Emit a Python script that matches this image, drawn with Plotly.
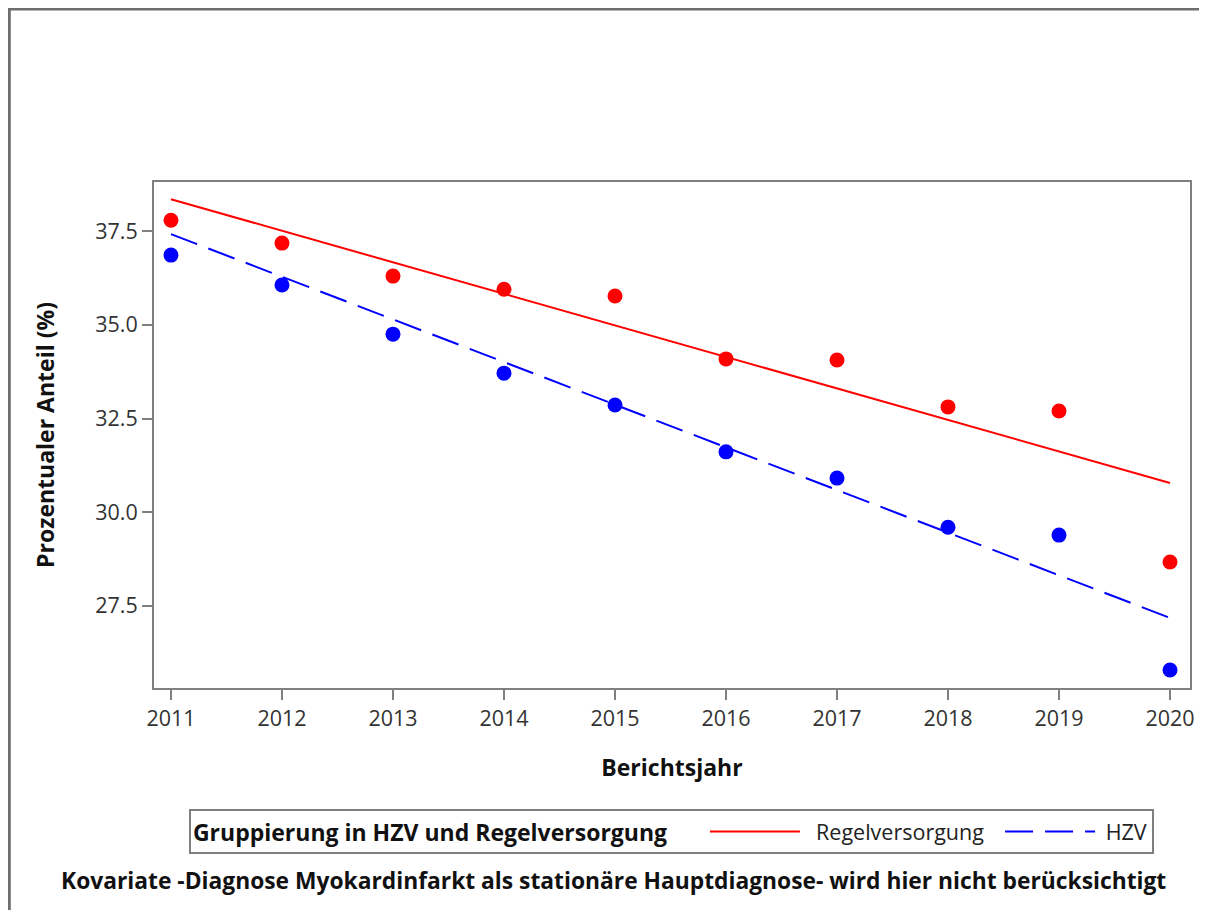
import plotly.graph_objects as go

years = [2011, 2012, 2013, 2014, 2015, 2016, 2017, 2018, 2019, 2020]
regel = [37.79, 37.18, 36.30, 35.95, 35.77, 34.09, 34.06, 32.81, 32.70, 28.67]
hzv = [36.86, 36.06, 34.75, 33.71, 32.86, 31.61, 30.91, 29.60, 29.39, 25.79]
trend_years = [2011, 2020]
trend_regel = [38.35, 30.78]
trend_hzv = [37.42, 27.18]
y_ticks = [27.5, 30.0, 32.5, 35.0, 37.5]

RED = "#ff0000"
BLUE = "#0000ff"
GRAY = "#808080"
FONT = "Open Sans"
BOLD_SIZE = 23
REG_SIZE = 21.5
NB = "\u00a0"

# plot area geometry (figure px)
L, T, PW, PH = 146, 174, 1038, 506
W, H = 1199, 902

fig = go.Figure()
fig.add_trace(go.Scatter(x=years, y=regel, mode="markers",
                         marker=dict(color=RED, size=15), showlegend=False))
fig.add_trace(go.Scatter(x=years, y=hzv, mode="markers",
                         marker=dict(color=BLUE, size=15), showlegend=False))
fig.add_trace(go.Scatter(x=trend_years, y=trend_regel, mode="lines",
                         line=dict(color=RED, width=2),
                         name=NB * 2 + "Regelversorgung" + NB * 2))
fig.add_trace(go.Scatter(x=trend_years, y=trend_hzv, mode="lines",
                         line=dict(color=BLUE, width=2, dash="28px,12px"),
                         name=NB + "HZV"))

fig.update_layout(
    width=W, height=H,
    margin=dict(l=L, r=W - L - PW, t=T, b=H - T - PH),
    paper_bgcolor="white", plot_bgcolor="white",
    font=dict(family=FONT, color="#222222", size=REG_SIZE),
    showlegend=True,
    legend=dict(
        orientation="h", x=(181 - L) / PW, y=(680 - 801) / PH, xanchor="left", yanchor="top",
        bordercolor=GRAY, borderwidth=2, itemwidth=90,
        title=dict(text="<b>Gruppierung in HZV und Regelversorgung</b>" + NB * 5,
                   font=dict(size=BOLD_SIZE, color="#111111")),
        font=dict(size=REG_SIZE, color="#222222"),
    ),
    xaxis=dict(
        range=[2010.847, 2020.18], tickvals=years, ticktext=[str(y) for y in years],
        showgrid=False, zeroline=False, showline=True, linecolor=GRAY, linewidth=2,
        mirror=True, ticks="outside", ticklen=10, tickwidth=2, tickcolor=GRAY,
        title=dict(text="<b>Berichtsjahr</b>", font=dict(size=BOLD_SIZE, color="#111111"), standoff=29),
        tickfont=dict(size=REG_SIZE, color="#333333"),
    ),
    yaxis=dict(
        range=[25.31, 38.81], tickvals=y_ticks, ticktext=[f"{v:.1f}" for v in y_ticks],
        showgrid=False, zeroline=False, showline=True, linecolor=GRAY, linewidth=2,
        mirror=True, ticks="outside", ticklen=10, tickwidth=2, tickcolor=GRAY,
        title=dict(text="<b>Prozentualer Anteil (%)</b>", font=dict(size=BOLD_SIZE, color="#111111"), standoff=34),
        tickfont=dict(size=REG_SIZE, color="#333333"),
    ),
    shapes=[dict(type="rect", xref="paper", yref="paper",
                 x0=(1 - L) / PW, x1=(W + 20 - L) / PW,
                 y0=(T + PH - H - 20) / PH, y1=1 + (T - 1) / PH,
                 line=dict(color="#6e6e6e", width=3))],
    annotations=[dict(text="<b>Kovariate -Diagnose Myokardinfarkt als stationäre Hauptdiagnose- wird hier nicht berücksichtigt</b>",
                      xref="paper", yref="paper", x=(606 - L) / PW, y=(680 - 872) / PH,
                      xanchor="center", yanchor="middle", showarrow=False,
                      font=dict(size=22.8, color="#111111"))],
)

fig.write_html("out.html")
